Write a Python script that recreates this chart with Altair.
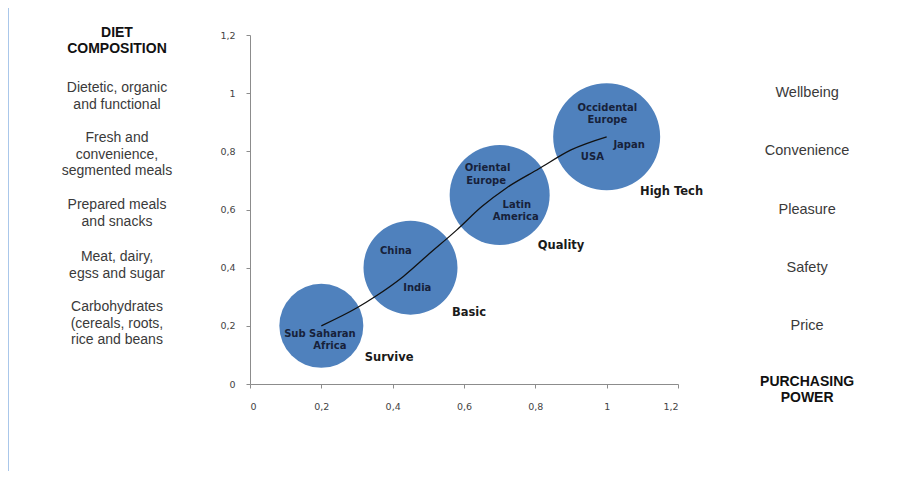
import altair as alt
import pandas as pd

# Bubbles (stage of food demand)
bubble_x = [0.2, 0.45, 0.7, 1.0]
bubble_y = [0.2, 0.4, 0.65, 0.85]
bubble_size = [7056, 8836, 10000, 11449]
stages = ["Survive", "Basic", "Quality", "High Tech"]
stage_x = [0.39, 0.614, 0.872, 1.182]
stage_y = [0.088, 0.245, 0.474, 0.659]

# Trend curve
curve_x = [0.2, 0.3, 0.35, 0.43, 0.5, 0.58, 0.65, 0.72, 0.81, 0.9, 1.0]
curve_y = [0.2, 0.262, 0.3, 0.37, 0.445, 0.53, 0.61, 0.675, 0.74, 0.805, 0.85]

# Country labels
countries = ["Sub Saharan", "Africa", "China", "India", "Oriental", "Europe",
             "Latin", "America", "Occidental", "Europe", "Japan", "USA"]
country_x = [0.196, 0.224, 0.409, 0.469, 0.666, 0.662, 0.748, 0.745, 1.002, 1.002, 1.063, 0.96]
country_y = [0.172, 0.132, 0.458, 0.331, 0.742, 0.699, 0.614, 0.573, 0.948, 0.908, 0.821, 0.781]

# Side annotations (y = first line)
diet_title = "DIET\nCOMPOSITION"
diet = ["Dietetic, organic\nand functional",
        "Fresh and\nconvenience,\nsegmented meals",
        "Prepared meals\nand snacks",
        "Meat, dairy,\negss and sugar",
        "Carbohydrates\n(cereals, roots,\nrice and beans"]
diet_y = [1.018, 0.846, 0.616, 0.437, 0.265]
power_title = "PURCHASING\nPOWER"
drivers = ["Wellbeing", "Convenience", "Pleasure", "Safety", "Price"]
driver_y = [1.0, 0.8, 0.6, 0.4, 0.2]

tick_values = [0, 0.2, 0.4, 0.6, 0.8, 1.0, 1.2]
LEFT_X = -0.373
RIGHT_X = 1.562

label_expr = "replace(format(datum.value, '.1~f'), '.', ',')"
xscale = alt.Scale(domain=[0, 1.2], nice=False, zero=False)
yscale = alt.Scale(domain=[0, 1.2], nice=False, zero=False)


def X(field="x"):
    return alt.X(f"{field}:Q", scale=xscale,
                 axis=alt.Axis(values=tick_values, labelExpr=label_expr, title=None,
                               grid=False, labelPadding=13, tickSize=4))


def Y(field="y"):
    return alt.Y(f"{field}:Q", scale=yscale,
                 axis=alt.Axis(values=tick_values, labelExpr=label_expr, title=None,
                               grid=False, labelPadding=11, tickSize=4))


bubbles_df = pd.DataFrame({"x": bubble_x, "y": bubble_y, "size": bubble_size})
curve_df = pd.DataFrame({"x": curve_x, "y": curve_y})
country_df = pd.DataFrame({"x": country_x, "y": country_y, "t": countries})
stage_df = pd.DataFrame({"x": stage_x, "y": stage_y, "t": stages})
diet_df = pd.DataFrame({"x": [LEFT_X] * len(diet), "y": diet_y, "t": diet})
diet_title_df = pd.DataFrame({"x": [LEFT_X], "y": [1.207], "t": [diet_title]})
drivers_df = pd.DataFrame({"x": [RIGHT_X] * len(drivers), "y": driver_y, "t": drivers})
power_df = pd.DataFrame({"x": [RIGHT_X], "y": [0.008], "t": [power_title]})

bubbles = alt.Chart(bubbles_df).mark_circle(color="#4F81BD", opacity=1).encode(
    x=X(), y=Y(), size=alt.Size("size:Q", scale=None, legend=None))

curve = alt.Chart(curve_df).mark_line(color="#111111", strokeWidth=1.3,
                                      interpolate="monotone").encode(x=X(), y=Y())

country_txt = alt.Chart(country_df).mark_text(
    font="DejaVu Sans", fontWeight="bold", fontSize=10, color="#17213A",
    align="center", baseline="middle").encode(x=X(), y=Y(), text="t:N")

stage_txt = alt.Chart(stage_df).mark_text(
    font="DejaVu Sans", fontWeight="bold", fontSize=11.5, color="#1a1a1a",
    align="center", baseline="middle").encode(x=X(), y=Y(), text="t:N")

diet_txt = alt.Chart(diet_df).mark_text(
    font="Liberation Sans", fontSize=14, color="#3a3a3a", lineBreak="\n",
    lineHeight=16.7, align="center", baseline="middle").encode(x=X(), y=Y(), text="t:N")

diet_title_txt = alt.Chart(diet_title_df).mark_text(
    font="Liberation Sans", fontWeight="bold", fontSize=14, color="#111111",
    lineBreak="\n", lineHeight=16.5, align="center", baseline="middle").encode(
    x=X(), y=Y(), text="t:N")

drivers_txt = alt.Chart(drivers_df).mark_text(
    font="Liberation Sans", fontSize=14.5, color="#3a3a3a",
    align="center", baseline="middle").encode(x=X(), y=Y(), text="t:N")

power_txt = alt.Chart(power_df).mark_text(
    font="Liberation Sans", fontWeight="bold", fontSize=14, color="#111111",
    lineBreak="\n", lineHeight=16.5, align="center", baseline="middle").encode(
    x=X(), y=Y(), text="t:N")

border = alt.Chart(pd.DataFrame({"k": [0]})).mark_rule(
    color="#8EB4E3", strokeWidth=1.5).encode(
    x=alt.value(-242), y=alt.value(-27), y2=alt.value(445))

chart = alt.layer(
    border, bubbles, curve, country_txt, stage_txt,
    diet_title_txt, diet_txt, drivers_txt, power_txt
).properties(
    width=428, height=349,
    autosize=alt.AutoSizeParams(type="none"),
    padding={"left": 242, "top": 27, "right": 210, "bottom": 87},
    background="white",
).configure_view(
    stroke=None
).configure_axis(
    domainColor="#8c8c8c", tickColor="#8c8c8c", labelColor="#444444",
    labelFont="DejaVu Sans", labelFontSize=9.5
)

chart.save("out.html", embed_options={"renderer": "svg", "actions": False})
